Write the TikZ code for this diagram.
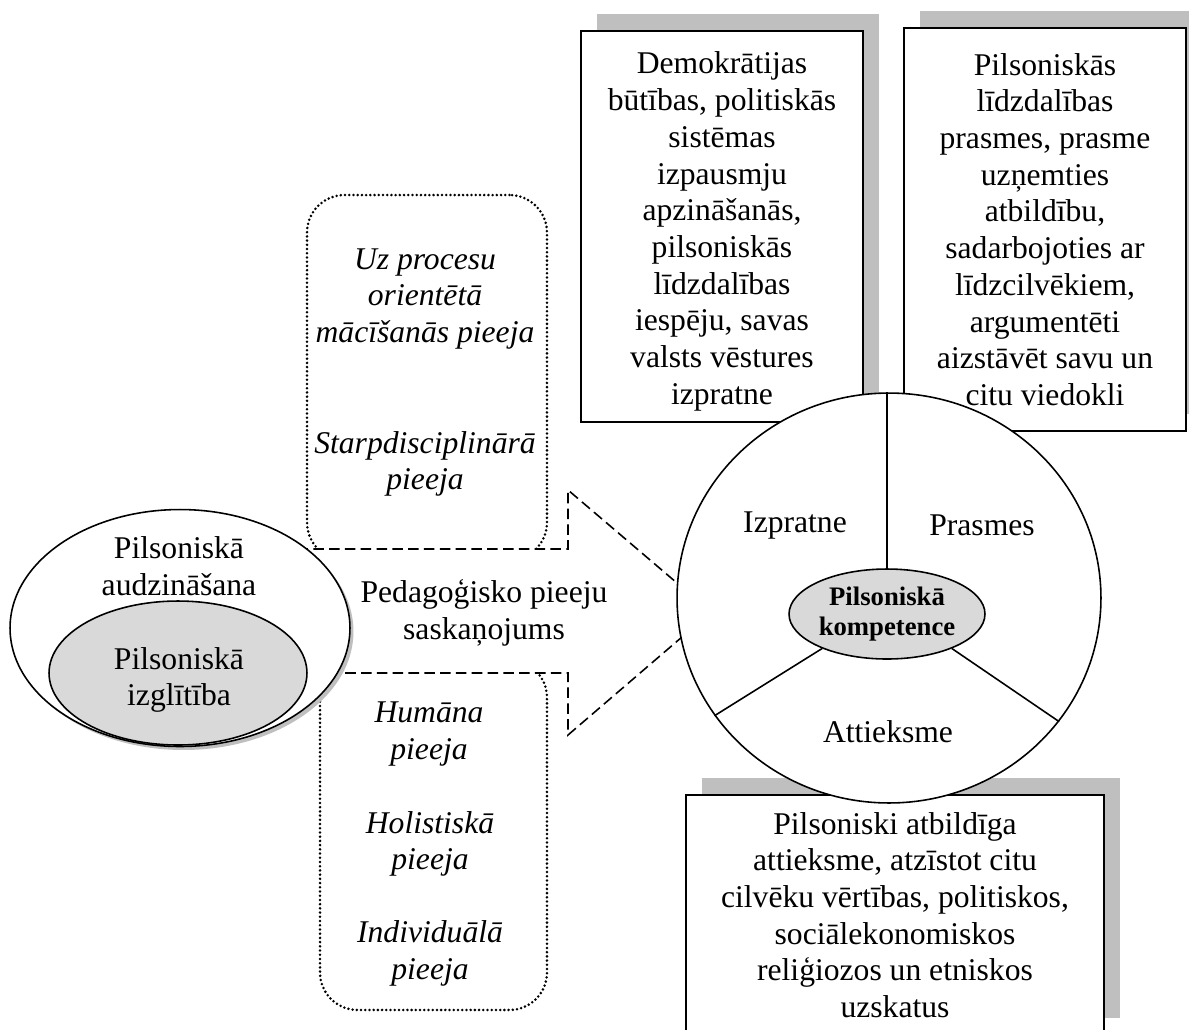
\documentclass[tikz,border=0pt]{standalone}
\usepackage{fontspec}
\setmainfont{Liberation Serif}
\usetikzlibrary{shapes.geometric,shadows}
\begin{document}
\begin{tikzpicture}[x=0.02cm,y=-0.02cm,
    txt/.style={align=center,inner sep=0pt,font=\fontsize{18}{20.9}\selectfont},
    itxt/.style={txt,font=\fontsize{18}{20.9}\selectfont\itshape},
    infobox/.style={draw,line width=1.1pt,fill=white,inner sep=0pt,
      drop shadow={shadow xshift=0.32cm,shadow yshift=0.34cm,fill=gray!50,opacity=1}},
    approach/.style={draw,line width=1.6pt,dash pattern=on 0pt off 2.4pt,line cap=round,
      rounded corners=0.75cm,inner sep=0pt},
    oval/.style={ellipse,draw,line width=0.9pt,inner sep=0pt}]
  \useasboundingbox (0,0) rectangle (1189,1029);
  \node[approach,minimum width=4.8cm,minimum height=7.3cm] (procapp) at (427,377.5) {};
  \node[approach,minimum width=4.54cm,minimum height=7cm] (humapp) at (433.5,835) {};
  \draw[line width=0.9pt,dash pattern=on 6pt off 3pt,fill=white]
    (250,549) -- (568,549) -- (568,490) -- (711,612) -- (568,735) -- (568,673) -- (250,673) -- cycle;
  \node[oval,fill=white,minimum width=6.8cm,minimum height=4.74cm,
    drop shadow={shadow xshift=0.07cm,shadow yshift=-0.07cm,fill=gray!50,opacity=1}] (audz) at (180,628) {};
  \node[oval,fill=gray!30,minimum width=5.16cm,minimum height=2.88cm] (izgl) at (178,673) {};
  \node[txt] (audztxt) at (179,566) {Pilsoniskā\\audzināšana};
  \node[txt] (izgltxt) at (179,680) {Pilsoniskā\\izglītība};
  \node[txt] (saskan) at (484,613) {Pedagoģisko pieeju\\saskaņojums};
  \node[itxt] (proc) at (425,299) {Uz procesu\\orientētā\\mācīšanās pieeja};
  \node[itxt] (starp) at (425,464) {Starpdisciplinārā\\pieeja};
  \node[itxt] (hum) at (429,734) {Humāna\\pieeja};
  \node[itxt] (holi) at (430,844) {Holistiskā\\pieeja};
  \node[itxt] (indiv) at (430,953.5) {Individuālā\\pieeja};
  \node[infobox,minimum width=5.64cm,minimum height=7.82cm] (demo) at (722,226.5) {};
  \node[infobox,minimum width=5.64cm,minimum height=8.06cm] (prasm) at (1045,229.5) {};
  \node[infobox,minimum width=8.37cm,minimum height=4.8cm] (attiek) at (895,915) {};
  \node[oval,fill=white,minimum width=8.48cm,minimum height=8.2cm] (komp) at (889,598) {};
  \node[oval,fill=gray!30,minimum width=3.92cm,minimum height=1.8cm,align=center,
    font=\bfseries\fontsize{15.2}{17.3}\selectfont] (pk) at (887,614) {Pilsoniskā\\kompetence};
  \draw[line width=0.9pt] (pk.north) -- (pk.north |- komp.north);
  \draw[line width=0.9pt] (pk.208) -- (komp.214);
  \draw[line width=0.9pt] (pk.332) -- (komp.324);
  \node[txt] (izpr) at (795,525) {Izpratne};
  \node[txt] (prasmes) at (982,525) {Prasmes};
  \node[txt] (attieksme) at (888,732) {Attieksme};
  \node[txt] (demotxt) at ([yshift=-0.1cm]demo.center) {Demokrātijas\\būtības, politiskās\\sistēmas\\izpausmju\\apzināšanās,\\pilsoniskās\\līdzdalības\\iespēju, savas\\valsts vēstures\\izpratne};
  \node[txt] (prasmtxt) at (prasm.center) {Pilsoniskās\\līdzdalības\\prasmes, prasme\\uzņemties\\atbildību,\\sadarbojoties ar\\līdzcilvēkiem,\\argumentēti\\aizstāvēt savu un\\citu viedokli};
  \node[txt] (attiektxt) at (attiek.center) {Pilsoniski atbildīga\\attieksme, atzīstot citu\\cilvēku vērtības, politiskos,\\sociālekonomiskos\\reliģiozos un etniskos\\uzskatus};
\end{tikzpicture}
\end{document}
